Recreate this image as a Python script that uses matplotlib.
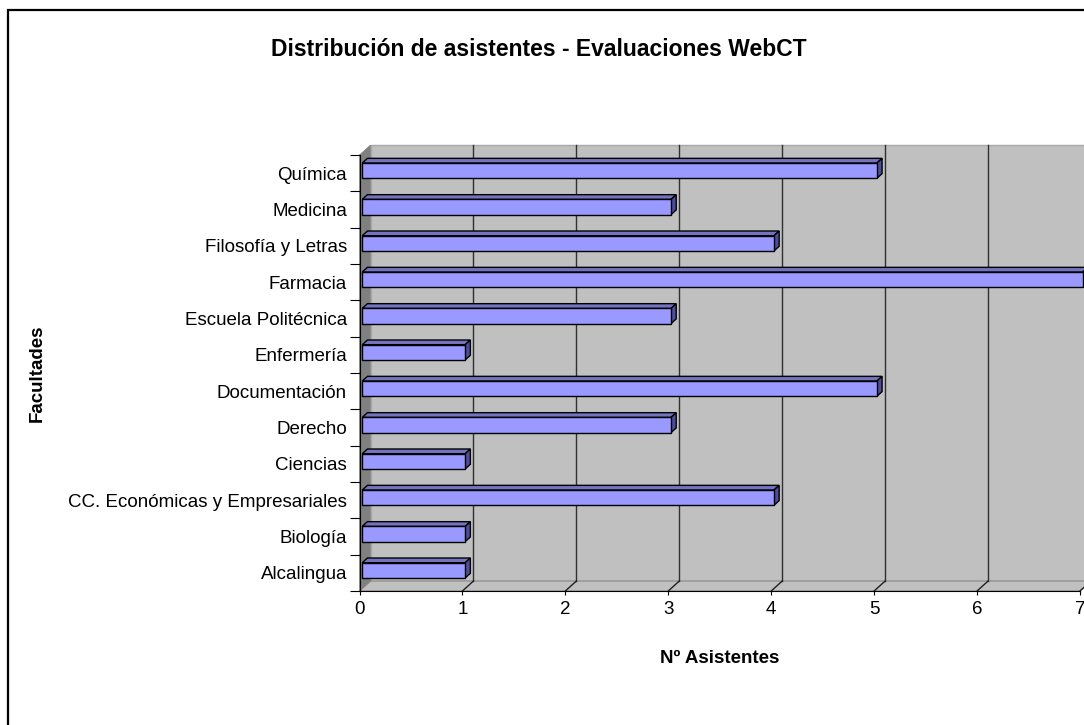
import matplotlib
matplotlib.use("Agg")
import matplotlib.pyplot as plt
from matplotlib.patches import Polygon, Rectangle

plt.rcParams['font.family'] = ['Liberation Sans', 'DejaVu Sans']

W, H = 1084, 725

facultades = ["Alcalingua", "Biología", "CC. Económicas y Empresariales", "Ciencias",
              "Derecho", "Documentación", "Enfermería", "Escuela Politécnica",
              "Farmacia", "Filosofía y Letras", "Medicina", "Química"]
asistentes = [1, 1, 4, 1, 3, 5, 1, 3, 7, 4, 3, 5]
x_ticks = [0, 1, 2, 3, 4, 5, 6, 7]

WALL = "#c0c0c0"
SIDE = "#808080"
BAR_FRONT = "#9999ff"
BAR_TOP = "#7373bf"
BAR_SIDE = "#4d4d99"

# depth of the 3d box in data units
DX = 0.107
DY = 0.275
BAR_H = 0.42
F0, F1 = 0.25, 0.72

fig = plt.figure(figsize=(W / 100, H / 100), dpi=100)
left, right, top, bottom = 359.5, 1080, 155, 591
ax = fig.add_axes([left / W, 1 - bottom / H, (right - left) / W, (bottom - top) / H])

n = len(facultades)
y0, y1 = -0.5, n - 0.5
xmax = x_ticks[-1]
ax.set_xlim(0, xmax)
ax.set_ylim(y0, y1)

# back wall
ax.add_patch(Polygon([(DX, y0 + DY), (xmax + DX, y0 + DY), (xmax + DX, y1 + DY), (DX, y1 + DY)],
                     closed=True, facecolor=WALL, edgecolor="#a8a8a8", lw=1, clip_on=False, zorder=1))
# floor
ax.add_patch(Polygon([(0, y0), (xmax, y0), (xmax + DX, y0 + DY), (DX, y0 + DY)],
                     closed=True, facecolor=WALL, edgecolor="#888888", lw=0.8, clip_on=False, zorder=1))
# left side wall
ax.add_patch(Polygon([(0, y0), (0, y1), (DX, y1 + DY), (DX, y0 + DY)],
                     closed=True, facecolor=SIDE, edgecolor=SIDE, lw=0.5, clip_on=False, zorder=1))
# gridlines on back wall and floor
for xt in x_ticks[1:]:
    ax.plot([xt + DX, xt + DX], [y0 + DY, y1 + DY], color="#303030", lw=1, clip_on=False, zorder=2)
    ax.plot([xt, xt + DX], [y0, y0 + DY], color="#202020", lw=1, clip_on=False, zorder=2)

# bars with 3d faces
for i, v in enumerate(asistentes):
    yb = i - BAR_H / 2
    yt = i + BAR_H / 2
    ax.barh(i + F0 * DY, v, left=F0 * DX, height=BAR_H, color=BAR_FRONT,
            edgecolor="black", lw=1, zorder=4, clip_on=False)
    ax.add_patch(Polygon([(F0 * DX, yt + F0 * DY), (v + F0 * DX, yt + F0 * DY),
                          (v + F1 * DX, yt + F1 * DY), (F1 * DX, yt + F1 * DY)],
                         closed=True, facecolor=BAR_TOP, edgecolor="black", lw=1,
                         clip_on=False, zorder=3))
    ax.add_patch(Polygon([(v + F0 * DX, yb + F0 * DY), (v + F1 * DX, yb + F1 * DY),
                          (v + F1 * DX, yt + F1 * DY), (v + F0 * DX, yt + F0 * DY)],
                         closed=True, facecolor=BAR_SIDE, edgecolor="black", lw=1,
                         clip_on=False, zorder=3))

for s in ["top", "right"]:
    ax.spines[s].set_visible(False)
ax.spines["left"].set_color("black")
ax.spines["bottom"].set_color("black")
ax.spines["left"].set_zorder(5)
ax.spines["bottom"].set_zorder(5)
ax.set_facecolor("none")

ax.set_yticks(range(n))
ax.set_yticklabels(facultades, fontsize=13.5)
ax.set_yticks([k - 0.5 for k in range(n + 1)], minor=True)
ax.tick_params(axis="y", which="major", length=0, pad=9)
ax.tick_params(axis="y", which="minor", length=7, width=0.8, color="black")
ax.set_xticks(x_ticks)
ax.tick_params(axis="x", length=3, width=0.8, labelsize=13.5, pad=4)

ax.set_xlabel("Nº Asistentes", fontsize=13.5, fontweight="bold", labelpad=23)
ax.set_ylabel("Facultades", fontsize=13.5, fontweight="bold", labelpad=0)
ax.yaxis.set_label_coords((46 - left) / (right - left), 0.5)

fig.text(539 / W, 1 - 49 / H, "Distribución de asistentes - Evaluaciones WebCT",
         ha="center", va="center", fontsize=16.5, fontweight="bold")

# chart border
fig.patches.append(Rectangle((8 / W, -0.1), 1.0, 1.1 - 10 / H, transform=fig.transFigure,
                             fill=False, edgecolor="black", lw=1.6))

plt.savefig("out.png", dpi=100)
